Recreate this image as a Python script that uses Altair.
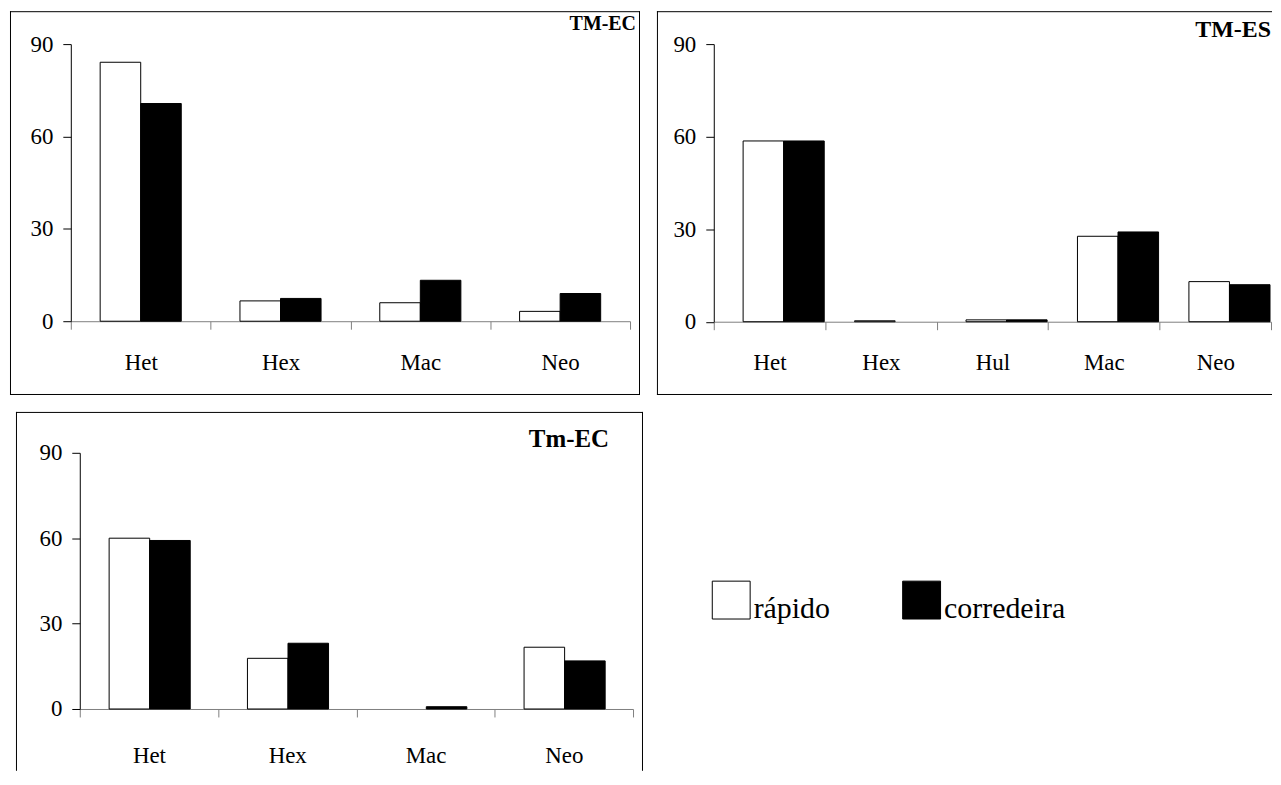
import altair as alt
import pandas as pd

FONT = "Liberation Serif"
SERIES = ["rápido", "corredeira"]

# Panel 1: TM-EC
p1_title = "TM-EC"
p1_cats = ["Het", "Hex", "Mac", "Neo"]
p1_rapido = [84.1, 6.6, 6.0, 3.2]
p1_corr = [70.7, 7.4, 13.3, 9.0]

# Panel 2: TM-ES
p2_title = "TM-ES"
p2_cats = ["Het", "Hex", "Hul", "Mac", "Neo"]
p2_rapido = [58.6, 0.3, 0.6, 27.7, 13.0]
p2_corr = [58.6, 0.0, 0.6, 29.1, 12.0]

# Panel 3: Tm-EC
p3_title = "Tm-EC"
p3_cats = ["Het", "Hex", "Mac", "Neo"]
p3_rapido = [60.0, 17.8, 0.0, 21.7]
p3_corr = [59.2, 23.1, 0.8, 16.9]

y_ticks = [0, 30, 60, 90]

ONE = pd.DataFrame({"k": [0]})


def make_df(cats, r, c):
    rows = []
    for cat, a, b in zip(cats, r, c):
        rows.append({"cat": cat, "series": SERIES[0], "value": a})
        rows.append({"cat": cat, "series": SERIES[1], "value": b})
    return pd.DataFrame(rows)


def hline(x0, x1, y):
    return alt.Chart(ONE).mark_rule(color="black", strokeWidth=1).encode(
        x=alt.value(x0), x2=alt.value(x1), y=alt.value(y))


def vline(x, y0, y1):
    return alt.Chart(ONE).mark_rule(color="black", strokeWidth=1).encode(
        x=alt.value(x), y=alt.value(y0), y2=alt.value(y1))


def panel(df, cats, title, W, H, xr, yr, xlabpad, frame, title_x, title_y,
          title_size, show_legend):
    color_kwargs = dict(scale=alt.Scale(domain=SERIES, range=["white", "black"]))
    if show_legend:
        color_kwargs["legend"] = alt.Legend(
            title=None, orient="none", legendX=704, legendY=580,
            direction="horizontal",
            symbolType="M-1,-1.474H1V0.526H-1Z", symbolSize=1444,
            symbolStrokeColor="black", symbolStrokeWidth=1,
            labelFont=FONT, labelFontSize=30, labelColor="black",
            labelOffset=3, columnPadding=70, padding=0, labelBaseline="middle",
        )

    bars = alt.Chart(df).mark_bar(stroke="black", strokeWidth=1).encode(
        x=alt.X("cat:N", sort=cats,
                scale=alt.Scale(domain=cats, range=list(xr), paddingInner=0, paddingOuter=0),
                axis=alt.Axis(title=None, labelAngle=0, tickBand="extent",
                              offset=-(H - yr[0]), tickSize=8, labelPadding=xlabpad,
                              domainColor="#808080", tickColor="#808080")),
        xOffset=alt.XOffset("series:N", sort=SERIES,
                            scale=alt.Scale(domain=SERIES, paddingInner=0, paddingOuter=0.724)),
        y=alt.Y("value:Q",
                scale=alt.Scale(domain=[0, 90], range=list(yr), nice=False, zero=True),
                axis=alt.Axis(title=None, values=y_ticks, offset=-xr[0], tickSize=8,
                              labelPadding=10, domainColor="black", tickColor="black")),
        color=alt.Color("series:N", **color_kwargs),
        strokeOpacity=alt.condition("datum.value > 0", alt.value(1), alt.value(0)),
    )

    label = alt.Chart(pd.DataFrame({"t": [title]})).mark_text(
        font=FONT, fontSize=title_size, fontWeight="bold", color="black",
        align="right", baseline="alphabetic",
    ).encode(text="t:N", x=alt.value(title_x), y=alt.value(title_y))

    return alt.layer(*frame, bars, label).properties(
        width=W, height=H,
        view=alt.ViewBackground(stroke="transparent", fill="white"),
    )


W1, H1 = 632, 385
W2, H2 = 617, 385
W3, H3 = 635, 360
L3 = 6  # left inset of panel 3 frame

frame1 = [hline(0, W1, 0.5), hline(0, W1, H1 - 0.5), vline(0.5, 0, H1), vline(W1 - 0.5, 0, H1)]
frame2 = [hline(0, W2, 0.5), hline(0, W2, H2 - 0.5), vline(0.5, 0, H2)]
frame3 = [hline(L3, W3, 0.5), vline(L3 + 0.5, 0, H3), vline(W3 - 0.5, 0, H3)]

c1 = panel(make_df(p1_cats, p1_rapido, p1_corr), p1_cats, p1_title,
           W1, H1, (61, 622), (311, 33), 22, frame1, W1 - 4, 19, 20, True)
c2 = panel(make_df(p2_cats, p2_rapido, p2_corr), p2_cats, p2_title,
           W2, H2, (57, 616), (311.5, 33), 22, frame2, W2 - 1, 26, 24, False)
c3 = panel(make_df(p3_cats, p3_rapido, p3_corr), p3_cats, p3_title,
           W3, H3, (L3 + 64, L3 + 619), (298, 41), 28, frame3, 601, 35, 25, False)

chart = alt.vconcat(
    alt.hconcat(c1, c2, spacing=15),
    c3,
    spacing=15,
).properties(
    padding={"left": 1, "top": 1, "right": 0, "bottom": 0},
    background="white",
).configure_axis(
    labelFont=FONT, labelFontSize=23, labelColor="black", grid=False,
    domainWidth=1, tickWidth=1,
)

chart.save("out.html", embed_options={"renderer": "svg", "actions": False})
